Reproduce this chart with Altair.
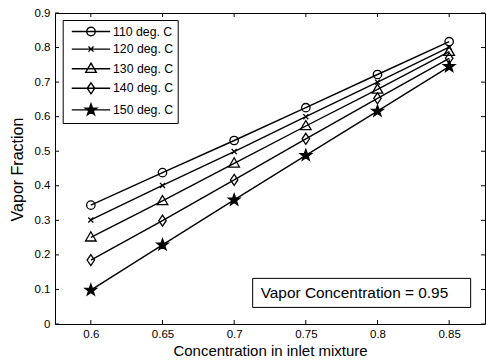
import altair as alt
import pandas as pd

# ---- data ----
conc = [0.6, 0.65, 0.7, 0.75, 0.8, 0.85]
series_names = ["110 deg. C", "120 deg. C", "130 deg. C", "140 deg. C", "150 deg. C"]
v110 = [0.344, 0.438, 0.531, 0.626, 0.722, 0.817]
v120 = [0.301, 0.401, 0.499, 0.600, 0.700, 0.801]
v130 = [0.251, 0.356, 0.465, 0.573, 0.679, 0.788]
v140 = [0.185, 0.299, 0.417, 0.536, 0.653, 0.769]
v150 = [0.098, 0.229, 0.359, 0.488, 0.616, 0.745]
x_ticks = [0.6, 0.65, 0.7, 0.75, 0.8, 0.85]
y_ticks = [0, 0.1, 0.2, 0.3, 0.4, 0.5, 0.6, 0.7, 0.8, 0.9]
annotation = "Vapor Concentration = 0.95"

rows = []
for name, vals in zip(series_names, [v110, v120, v130, v140, v150]):
    for c, v in zip(conc, vals):
        rows.append({"conc": c, "frac": v, "series": name})
df = pd.DataFrame(rows)

FONT = "Liberation Sans"
W, H = 430, 311
XDOM = [0.575, 0.875]
YDOM = [0, 0.9]
XTITLE = "Concentration in inlet mixture"
YTITLE = "Vapor Fraction"

# marker shapes (unit coords, drawn at size 144 -> 6px per unit)
circle = "M-0.7,0A0.7,0.7,0,1,0,0.7,0A0.7,0.7,0,1,0,-0.7,0Z"
xmark = "M-0.42,-0.42L0.42,0.42M-0.42,0.42L0.42,-0.42"
tri = "M0,-0.92L0.88,0.62L-0.88,0.62Z"
diam = "M0,-0.92L0.62,0L0,0.92L-0.62,0Z"
star = ("M0,-1L0.235,-0.324L0.951,-0.309L0.380,0.124L0.588,0.809L0,0.4"
        "L-0.588,0.809L-0.380,0.124L-0.951,-0.309L-0.235,-0.324Z")
# solid-looking star for the legend (outline + spokes)
star_solid = (star + "M0,0L0,-1M0,0L0.951,-0.309M0,0L0.588,0.809M0,0L-0.588,0.809"
              "M0,0L-0.951,-0.309M0,0L0.235,-0.324M0,0L0.380,0.124M0,0L0,0.4"
              "M0,0L-0.380,0.124M0,0L-0.235,-0.324")
markers = [circle, xmark, tri, diam, star]
seg = "M-3.2,0L3.2,0"
legend_shapes = [seg + m for m in [circle, xmark, tri, diam, star_solid]]
fills = ["transparent", "transparent", "transparent", "transparent", "black"]

xscale = alt.Scale(domain=XDOM, nice=False, zero=False)
yscale = alt.Scale(domain=YDOM, nice=False, zero=False)

xaxis = alt.Axis(values=x_ticks, format="~g", title=XTITLE,
                 titleFontSize=15, titleY=31.5, titleBaseline="alphabetic",
                 labelPadding=4.5, labelOverlap=False, labelFlush=False)
yaxis = alt.Axis(values=y_ticks, format="~g", title=YTITLE,
                 titleFontSize=16, titleX=-33, titleY=156,
                 titleBaseline="alphabetic", labelPadding=5,
                 labelOverlap=False, labelFlush=False)


def X(field):
    return alt.X(field, scale=xscale, axis=xaxis)


def Y(field):
    return alt.Y(field, scale=yscale, axis=yaxis)


lines = alt.Chart(df).mark_line(color="black", strokeWidth=1.4).encode(
    x=X("conc:Q"), y=Y("frac:Q"), detail="series:N",
)

points = alt.Chart(df).mark_point(color="black", strokeWidth=1.3, size=144, opacity=1).encode(
    x=X("conc:Q"), y=Y("frac:Q"),
    shape=alt.Shape("series:N", scale=alt.Scale(domain=series_names, range=markers), legend=None),
    fill=alt.Fill("series:N", scale=alt.Scale(domain=series_names, range=fills), legend=None),
)

legend_layer = alt.Chart(df).mark_point(color="black", opacity=0).encode(
    x=X("conc:Q"), y=Y("frac:Q"),
    shape=alt.Shape("series:N", scale=alt.Scale(domain=series_names, range=legend_shapes),
                    legend=alt.Legend(title=None, orient="none", legendX=7.7, legendY=7,
                                      symbolSize=144, symbolStrokeWidth=1.4,
                                      symbolStrokeColor="black", symbolOpacity=1,
                                      symbolFillColor="transparent",
                                      symbolOffset=16.8, labelOffset=15,
                                      padding=4.5, rowPadding=3.6,
                                      labelFont=FONT, labelFontSize=12.3, labelColor="black",
                                      strokeColor="black", fillColor="white",
                                      cornerRadius=0)),
)

ann_df = pd.DataFrame({"x": [0.7129], "x2": [0.865], "y": [0.048], "y2": [0.132],
                       "tx": [0.7185], "ty": [0.0897], "label": [annotation]})
box = alt.Chart(ann_df).mark_rect(fill="white", stroke="black", strokeWidth=1).encode(
    x=X("x:Q"), x2="x2:Q", y=Y("y:Q"), y2="y2:Q",
)
text = alt.Chart(ann_df).mark_text(align="left", baseline="middle", font=FONT,
                                   fontSize=15.4, color="black").encode(
    x=X("tx:Q"), y=Y("ty:Q"), text="label:N",
)

xt = pd.DataFrame({"t": x_ticks})
yt = pd.DataFrame({"t": y_ticks})
TL = 4
xt_bottom = alt.Chart(xt).mark_rule(color="black", strokeWidth=1).encode(
    x=X("t:Q"), y=alt.value(H), y2=alt.value(H - TL))
xt_top = alt.Chart(xt).mark_rule(color="black", strokeWidth=1).encode(
    x=X("t:Q"), y=alt.value(0), y2=alt.value(TL))
yt_left = alt.Chart(yt).mark_rule(color="black", strokeWidth=1).encode(
    y=Y("t:Q"), x=alt.value(0), x2=alt.value(TL))
yt_right = alt.Chart(yt).mark_rule(color="black", strokeWidth=1).encode(
    y=Y("t:Q"), x=alt.value(W), x2=alt.value(W - TL))

chart = alt.layer(
    lines, points, legend_layer, box, text, xt_bottom, xt_top, yt_left, yt_right
).resolve_scale(
    shape="independent", fill="independent"
).properties(
    width=W, height=H,
    autosize=alt.AutoSizeParams(type="none"),
    padding={"left": 55, "top": 13, "right": 1, "bottom": 38},
    background="white",
).configure_view(
    stroke="black", strokeWidth=1
).configure_axis(
    grid=False, ticks=False, domain=False,
    labelFont=FONT, labelFontSize=11.5, labelColor="black",
    titleFont=FONT, titleColor="black", titleFontWeight="normal",
)

chart.save("out.html", embed_options={"renderer": "svg", "actions": False})
